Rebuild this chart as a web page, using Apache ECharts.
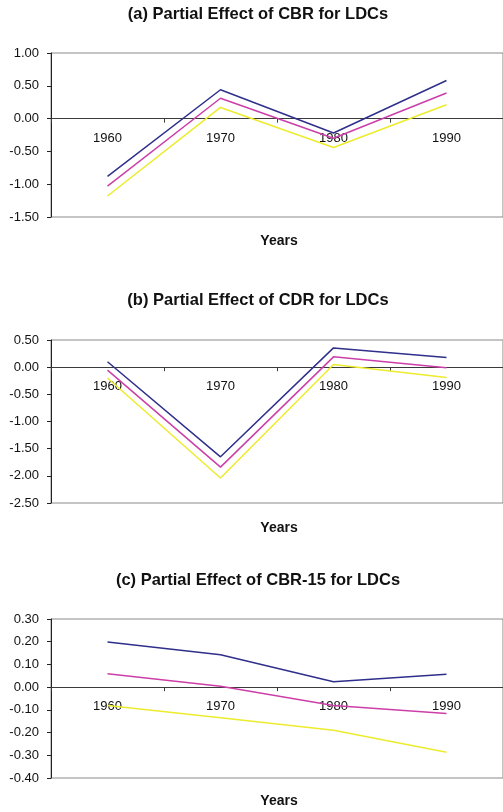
<!DOCTYPE html>
<html>
<head>
<meta charset="utf-8">
<script src="https://cdn.jsdelivr.net/npm/echarts@6/dist/echarts.min.js"></script>
<style>
  html, body { margin: 0; padding: 0; background: #fff; }
  #chart { width: 503px; height: 812px; }
</style>
</head>
<body>
<div id="chart"></div>
<script>
// Decades on the category axis
const years = ['1960', '1970', '1980', '1990'];

// (a) Partial effect of CBR
const cbrUpper = [-0.88, 0.44, -0.22, 0.58];
const cbrMid   = [-1.03, 0.31, -0.30, 0.39];
const cbrLower = [-1.18, 0.17, -0.44, 0.21];

// (b) Partial effect of CDR
const cdrUpper = [0.10, -1.65, 0.355, 0.18];
const cdrMid   = [-0.055, -1.84, 0.19, -0.01];
const cdrLower = [-0.20, -2.04, 0.05, -0.19];

// (c) Partial effect of CBR-15
const cbr15Upper = [0.199, 0.143, 0.024, 0.057];
const cbr15Mid   = [0.059, 0.004, -0.081, -0.116];
const cbr15Lower = [-0.081, -0.135, -0.19, -0.287];

const panelTitles = [
  '(a) Partial Effect of CBR for LDCs',
  '(b) Partial Effect of CDR for LDCs',
  '(c) Partial Effect of CBR-15 for LDCs'
];
const axisTitle = 'Years';

// y-axis ranges per panel: [min, max, interval]
const yRanges = [[-1.5, 1.0, 0.5], [-2.5, 0.5, 0.5], [-0.4, 0.3, 0.1]];

const panelSeries = [
  [cbrUpper, cbrMid, cbrLower],
  [cdrUpper, cdrMid, cdrLower],
  [cbr15Upper, cbr15Mid, cbr15Lower]
];

const lineColors = ['#2f2f8c', '#cc3fa8', '#ecec2c'];
const FONT = 'Liberation Sans, Arial, sans-serif';

// layout for each panel (pixel positions of plot areas and text)
const panels = [
  { top: 53,  height: 164, titleY: 1,   nameY: 229 },
  { top: 340, height: 163, titleY: 287, nameY: 516 },
  { top: 619, height: 159, titleY: 567, nameY: 789 }
];
const GRID_LEFT = 51, GRID_WIDTH = 456;
const TITLE_X = 253;

const grids = [], xAxes = [], yAxes = [], series = [], titles = [];

panels.forEach((p, i) => {
  const [mn, mx, iv] = yRanges[i];
  // the category axis sits on the zero line, labels included
  const zeroOffset = -p.height * (0 - mn) / (mx - mn);
  grids.push({
    left: GRID_LEFT, top: p.top, width: GRID_WIDTH, height: p.height,
    show: true, borderColor: '#8a8a8a', borderWidth: 1, backgroundColor: 'transparent'
  });
  xAxes.push({
    type: 'category', gridIndex: i, data: years, boundaryGap: true,
    position: 'bottom', offset: zeroOffset,
    axisLine: { onZero: false, lineStyle: { color: '#3a3a3a', width: 1 } },
    axisTick: { show: true, length: 4, alignWithLabel: false, lineStyle: { color: '#3a3a3a' } },
    axisLabel: { color: '#111', fontSize: 13, fontFamily: FONT, margin: 13 },
    splitLine: { show: false }
  });
  yAxes.push({
    type: 'value', gridIndex: i, min: mn, max: mx, interval: iv,
    axisLine: { show: true, lineStyle: { color: '#222', width: 1 } },
    axisTick: { show: true, length: 4, inside: false, lineStyle: { color: '#222' } },
    axisLabel: { color: '#111', fontSize: 13, fontFamily: FONT, margin: 12,
                 formatter: v => v.toFixed(2) },
    splitLine: { show: false }
  });
  panelSeries[i].forEach((vals, k) => {
    series.push({
      type: 'line', xAxisIndex: i, yAxisIndex: i, data: vals,
      showSymbol: false, symbol: 'none',
      lineStyle: { color: lineColors[k], width: 1.5 },
      z: 3 - k
    });
  });
  titles.push({
    text: panelTitles[i], left: TITLE_X, top: p.titleY, textAlign: 'center',
    textStyle: { fontSize: 16.5, fontWeight: 'bold', fontFamily: FONT, color: '#111' }
  });
  titles.push({
    text: axisTitle, left: GRID_LEFT + GRID_WIDTH / 2 - 5, top: p.nameY, textAlign: 'center',
    textStyle: { fontSize: 14, fontWeight: 'bold', fontFamily: FONT, color: '#111' }
  });
});

const chart = echarts.init(document.getElementById('chart'), null, { renderer: 'canvas' });
chart.setOption({
  animation: false,
  backgroundColor: '#ffffff',
  title: titles,
  grid: grids,
  xAxis: xAxes,
  yAxis: yAxes,
  series: series
});
</script>
</body>
</html>
